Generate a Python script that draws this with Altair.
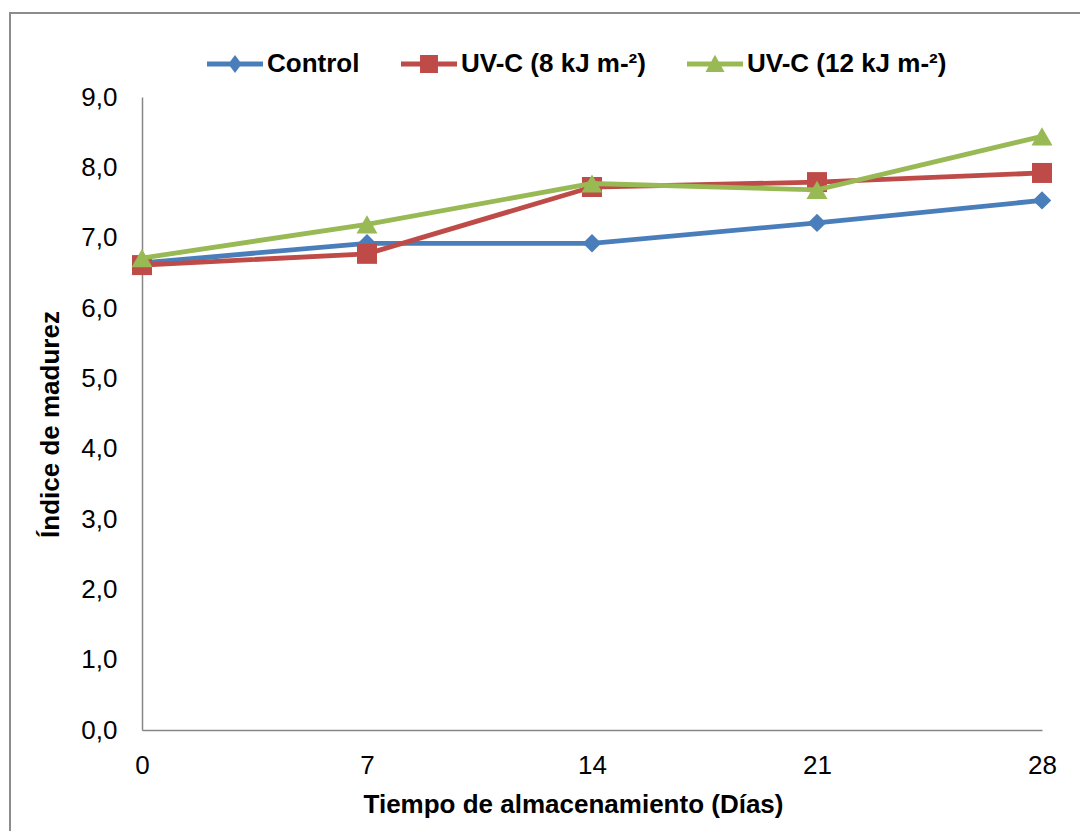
import altair as alt
import pandas as pd

days = [0, 7, 14, 21, 28]
series_names = ["Control", "UV-C (8 kJ m-²)", "UV-C (12 kJ m-²)"]
control = [6.64, 6.92, 6.92, 7.21, 7.53]
uvc8 = [6.61, 6.77, 7.72, 7.79, 7.92]
uvc12 = [6.71, 7.19, 7.77, 7.68, 8.44]
colors = ["#4A7EBB", "#BE4B48", "#98B954"]
marker_shapes = ["diamond", "square", "triangle-up"]
marker_sizes = [340, 400, 440]
legend_paths = [
    "M-1,-0.085 L1,-0.085 L1,0.085 L-1,0.085 Z M0,-0.32 L0.24,0 L0,0.32 L-0.24,0 Z",
    "M-1,-0.085 L1,-0.085 L1,0.085 L-1,0.085 Z M-0.32,-0.32 L0.32,-0.32 L0.32,0.32 L-0.32,0.32 Z",
    "M-1,-0.085 L1,-0.085 L1,0.085 L-1,0.085 Z M0,-0.33 L0.34,0.29 L-0.34,0.29 Z",
]

rows = []
for name, vals in zip(series_names, [control, uvc8, uvc12]):
    for d, v in zip(days, vals):
        rows.append({"day": d, "value": v, "series": name})
df = pd.DataFrame(rows)

FONT = "Liberation Sans"
W, H = 900, 633
PAD_L, PAD_T, PAD_R, PAD_B = 142, 97, 38, 101

x_enc = alt.X(
    "day:Q",
    scale=alt.Scale(domain=[0, 28], nice=False, zero=False),
    axis=alt.Axis(
        values=days,
        title="Tiempo de almacenamiento (Días)",
        labelPadding=22,
        labelBaseline="top",
        titleX=431,
        titleY=82,
        titleBaseline="alphabetic",
        titleAlign="center",
        labelFlush=False,
    ),
)
y_enc = alt.Y(
    "value:Q",
    scale=alt.Scale(domain=[0, 9], nice=False),
    axis=alt.Axis(
        values=list(range(0, 10)),
        labelExpr="replace(format(datum.value, '.1f'), '.', ',')",
        title="Índice de madurez",
        labelPadding=25,
        titleX=-84,
        titleY=327,
        titleBaseline="alphabetic",
        titleAlign="center",
        titleAngle=270,
    ),
)

base = alt.Chart(df)

border = alt.Chart(pd.DataFrame({"a": [0]})).mark_rect(
    fill="white", fillOpacity=0, stroke="#8C8C8C", strokeWidth=2
).encode(
    x=alt.value(10 - PAD_L),
    x2=alt.value(1100 - PAD_L),
    y=alt.value(13 - PAD_T),
    y2=alt.value(860 - PAD_T),
)

layers = [border]
for name, col, shp, sz in zip(series_names, colors, marker_shapes, marker_sizes):
    sub = base.transform_filter(alt.datum.series == name)
    line = sub.mark_line(strokeWidth=4.8, color=col).encode(x=x_enc, y=y_enc)
    pts = sub.mark_point(shape=shp, filled=True, size=sz, opacity=1, color=col).encode(
        x=x_enc, y=y_enc
    )
    layers += [line, pts]

leg = alt.Legend(
    title=None,
    orient="none",
    direction="horizontal",
    legendX=65,
    legendY=-61,
    symbolSize=3136,
    symbolStrokeWidth=0,
    symbolOpacity=1,
    labelFont=FONT,
    labelFontSize=26,
    labelFontWeight="bold",
    labelColor="black",
    labelOffset=4,
    columnPadding=41,
    padding=0,
    labelLimit=400,
)
legend_layer = base.transform_filter("false").mark_point(filled=True).encode(
    x=x_enc, y=y_enc,
    color=alt.Color("series:N", scale=alt.Scale(domain=series_names, range=colors), legend=leg),
    shape=alt.Shape("series:N", scale=alt.Scale(domain=series_names, range=legend_paths), legend=leg),
)
layers.append(legend_layer)

chart = alt.layer(*layers).properties(
    width=W,
    height=H,
    autosize=alt.AutoSizeParams(type="none"),
    padding={"left": PAD_L, "top": PAD_T, "right": PAD_R, "bottom": PAD_B},
    background="white",
).configure_view(stroke=None).configure_axis(
    grid=False,
    ticks=False,
    tickSize=0,
    domainColor="#868686",
    domainWidth=1.5,
    labelFont=FONT,
    labelFontSize=26,
    labelColor="black",
    titleFont=FONT,
    titleFontSize=26,
    titleFontWeight="bold",
    titleColor="black",
)

chart.save("out.html", embed_options={"renderer": "svg", "actions": False})
